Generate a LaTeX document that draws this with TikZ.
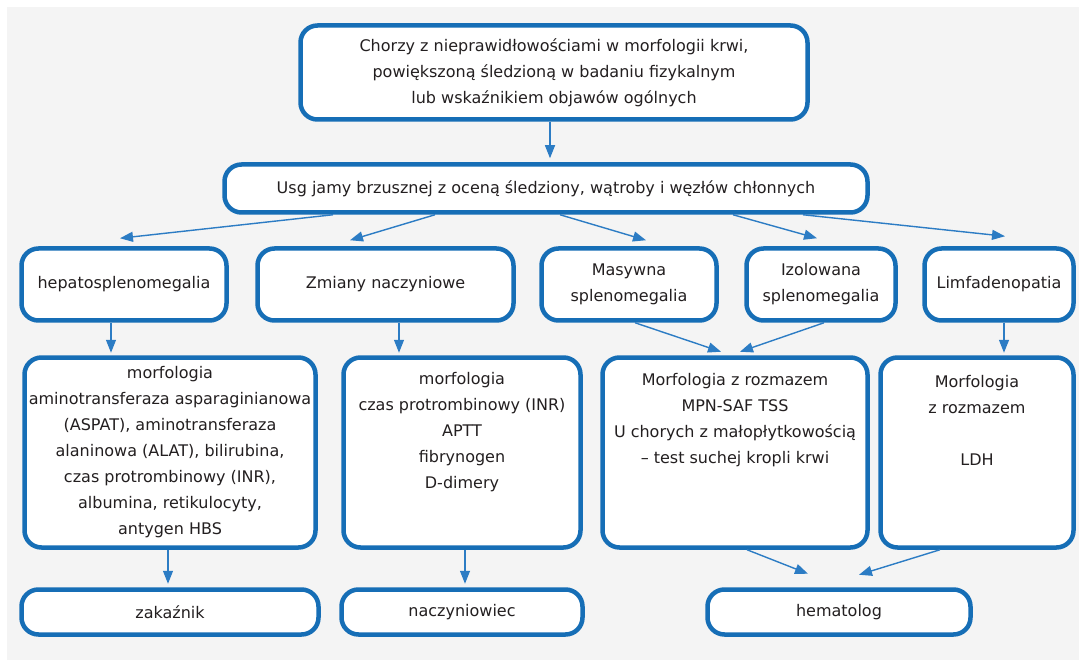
\documentclass[tikz,border=0pt]{standalone}
\usepackage{fontspec}
\setmainfont{DejaVu Sans}
\usetikzlibrary{arrows.meta}

\definecolor{boxblue}{RGB}{22,110,182}
\definecolor{arrblue}{RGB}{44,124,196}
\definecolor{panel}{RGB}{244,244,244}
\definecolor{ink}{RGB}{35,31,32}

% text set at the top of a tall box
\newcommand{\toptext}[3]{\parbox[c][190pt][t]{#1pt}{\centering\rule{0pt}{#2pt}#3}}

\begin{document}
\begin{tikzpicture}[x=1pt, y=-1pt,
    box/.style={draw=boxblue, line width=4.5pt, rounded corners=17pt, fill=white,
        text=ink, align=center, inner sep=2pt, font=\fontsize{16}{26}\selectfont},
    arr/.style={draw=arrblue, line width=1.4pt, -{Triangle[length=13pt,width=10pt]}}]
            % Background
            \useasboundingbox (0,0) rectangle (1079,660);
            \fill[white] (0,0) rectangle (1079,660);
            \fill[panel] (7,7) rectangle (1079,660);
            % Top rows
            \node[box, minimum width=507pt, minimum height=94pt] (top) at (554,72.5)
                {Chorzy z nieprawidłowościami w morfologii krwi,\\
                 powiększoną śledzioną w badaniu fizykalnym\\
                 lub wskaźnikiem objawów ogólnych};
            \node[box, minimum width=643pt, minimum height=48pt] (usg) at (546,188.5)
                {Usg jamy brzusznej z oceną śledziony, wątroby i węzłów chłonnych};
            \node[box, minimum width=205pt, minimum height=72pt] (hepato) at (124,284.5) {hepatosplenomegalia};
            \node[box, minimum width=256pt, minimum height=72pt] (zmiany) at (385.5,284.5) {Zmiany naczyniowe};
            \node[box, minimum width=175pt, minimum height=72pt] (masywna) at (629,284.5) {Masywna\\ splenomegalia};
            \node[box, minimum width=149pt, minimum height=72pt] (izol) at (821,284.5) {Izolowana\\ splenomegalia};
            \node[box, minimum width=149pt, minimum height=72pt] (limf) at (999,284.5) {Limfadenopatia};
            % Tests
            \node[box, minimum width=291pt, minimum height=190pt] (testA) at (170,452.5)
                {morfologia\\ aminotransferaza asparaginianowa\\ (ASPAT), aminotransferaza\\
                 alaninowa (ALAT), bilirubina,\\ czas protrombinowy (INR),\\
                 albumina, retikulocyty,\\ antygen HBS};
            \node[box, inner sep=0pt] (testB) at (462,452.5)
                {\toptext{237}{27}{morfologia\\ czas protrombinowy (INR)\\ APTT\\ fibrynogen\\ D-dimery}};
            \node[box, inner sep=0pt] (testC) at (735,452.5)
                {\toptext{265}{28}{Morfologia z rozmazem\\ MPN-SAF TSS\\ U chorych z małopłytkowością\\ – test suchej kropli krwi}};
            \node[box, inner sep=0pt] (testD) at (977,452.5)
                {\toptext{193}{30}{Morfologia\\ z rozmazem\\[26pt] LDH}};
            % Specialists
            \node[box, minimum width=297pt, minimum height=45pt] (zak) at (170,612) {zakaźnik};
            \node[box, minimum width=241pt, minimum height=45pt] (nacz) at (462,612) {naczyniowiec};
            \node[box, minimum width=263pt, minimum height=45pt] (hema) at (839,612) {hematolog};
            % Arrows
            \draw[arr] ([xshift=-4pt]top.south) -- ([xshift=4pt,yshift=4pt]usg.north);
            \draw[arr] ([xshift=-213pt]usg.south) -- ([xshift=-4pt,yshift=8pt]hepato.north);
            \draw[arr] ([xshift=-111pt]usg.south) -- ([xshift=-35.5pt,yshift=6pt]zmiany.north);
            \draw[arr] ([xshift=14pt]usg.south) -- ([xshift=17pt,yshift=6pt]masywna.north);
            \draw[arr] ([xshift=187pt]usg.south) -- ([xshift=-4pt,yshift=8pt]izol.north);
            \draw[arr] ([xshift=257pt]usg.south) -- ([xshift=6pt,yshift=10pt]limf.north);
            \draw[arr] ([xshift=-13pt]hepato.south) -- ([xshift=-59pt,yshift=2.5pt]testA.north);
            \draw[arr] ([xshift=13.5pt]zmiany.south) -- ([xshift=-63pt,yshift=2.5pt]testB.north);
            \draw[arr] ([xshift=6pt]masywna.south) -- ([xshift=-14pt,yshift=3.5pt]testC.north);
            \draw[arr] ([xshift=3pt]izol.south) -- ([xshift=5pt,yshift=3.5pt]testC.north);
            \draw[arr] ([xshift=5pt]limf.south) -- ([xshift=27pt,yshift=2.5pt]testD.north);
            \draw[arr] ([xshift=-2pt]testA.south) -- ([xshift=-2pt,yshift=3.5pt]zak.north);
            \draw[arr] ([xshift=3pt]testB.south) -- ([xshift=3pt,yshift=3.5pt]nacz.north);
            \draw[arr] ([xshift=12pt]testC.south) -- ([xshift=-31pt,yshift=13.5pt]hema.north);
            \draw[arr] ([xshift=-37pt]testD.south) -- ([xshift=20pt,yshift=12.5pt]hema.north);
        \end{tikzpicture}
\end{document}
